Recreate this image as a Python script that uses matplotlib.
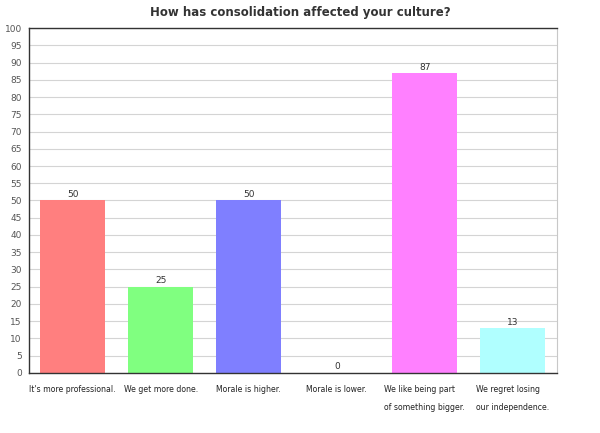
import matplotlib.pyplot as plt

# data
categories = ["It's more professional.", "We get more done.", "Morale is higher.",
              "Morale is lower.", "We like being part\n\nof something bigger.",
              "We regret losing\n\nour independence."]
values = [50, 25, 50, 0, 87, 13]
colors = ["#ff7f7f", "#80ff80", "#7f7fff", "#7fdfff", "#ff80ff", "#b0ffff"]
yticks = list(range(0, 101, 5))

fig = plt.figure(figsize=(6, 4.33), dpi=100)
ax = fig.add_axes([0.048, 0.139, 0.88, 0.796])

x = range(len(categories))
ax.bar(x, values, width=0.74, color=colors, zorder=2)
for i, v in zip(x, values):
    ax.text(i, v + 0.4, str(v), ha="center", va="bottom", fontsize=6.5, color="#333333")

ax.set_xlim(-0.5, len(categories) - 0.5)
ax.set_ylim(0, 100)
ax.set_yticks(yticks)
ax.set_yticklabels([str(t) for t in yticks], fontsize=6.5, color="#555555")
ax.set_xticks(list(x))
ax.set_xticklabels(categories, fontsize=5.6, color="#222222", linespacing=1.0,
                   va="top", multialignment="left")
ax.tick_params(axis="x", length=0, pad=9)
ax.tick_params(axis="y", length=0, pad=5)
ax.grid(axis="y", color="#d4d4d4", linewidth=0.8, zorder=0)

for side in ["left", "bottom", "top"]:
    ax.spines[side].set_color("#333333")
    ax.spines[side].set_linewidth(1.0)
ax.spines["right"].set_color("#c8c8c8")

fig.suptitle("How has consolidation affected your culture?", x=0.5, y=0.985,
             fontsize=8.5, fontweight="bold", color="#333333")

fig.savefig("out.png", dpi=100)
